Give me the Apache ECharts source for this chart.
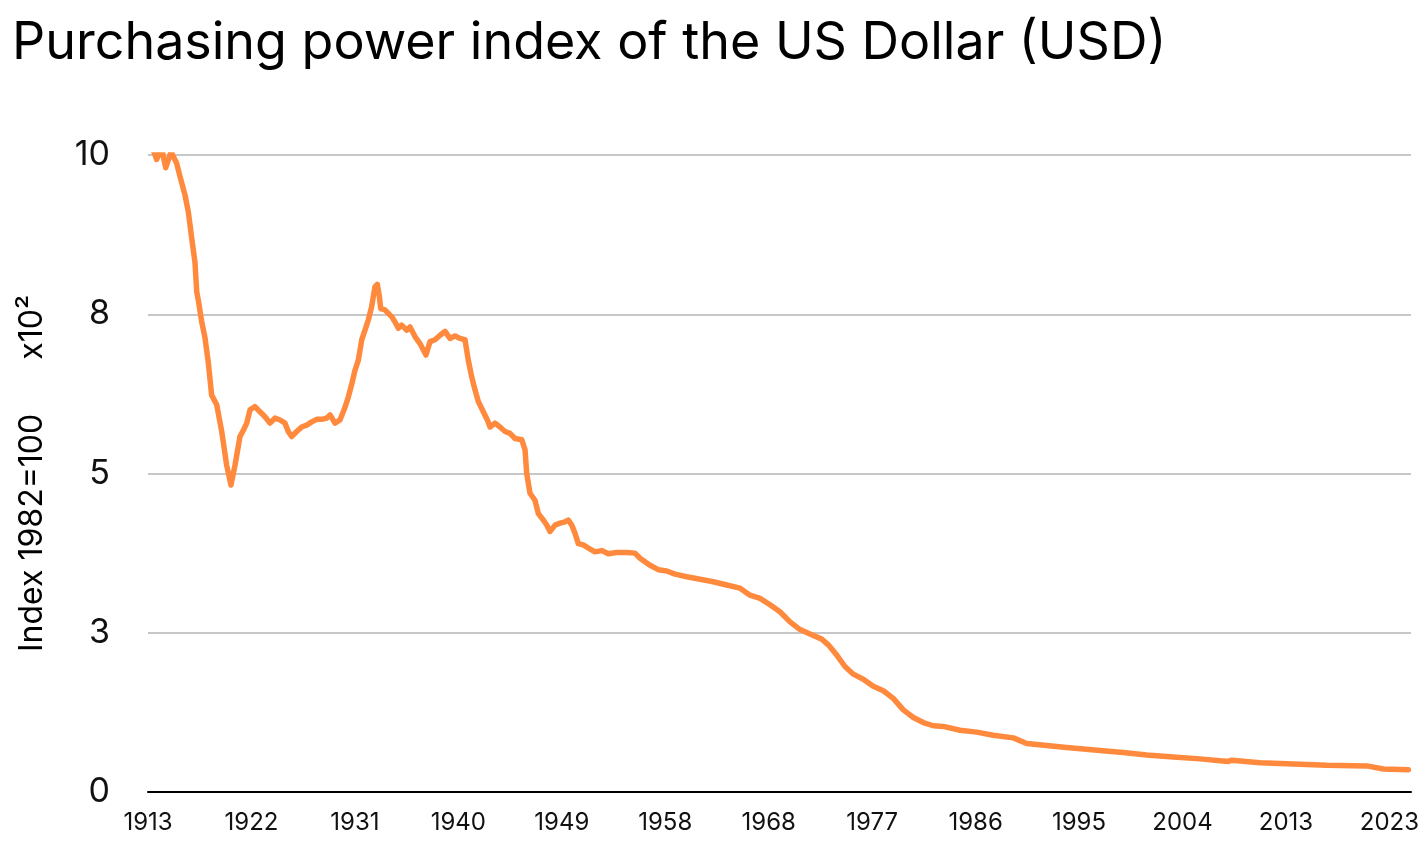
<!DOCTYPE html>
<html>
<head>
<meta charset="utf-8">
<script src="https://cdn.jsdelivr.net/npm/echarts@6/dist/echarts.min.js"></script>
<style>
html,body{margin:0;padding:0;background:#fff;}
#chart{width:1426px;height:842px;}
</style>
</head>
<body>
<div id="chart"></div>
<script>
// Purchasing power index (hundreds, 1982=100)
const years = [
  1913.00,1913.33,1913.77,1914.21,1914.57,1915.04,1915.54,1915.84,1916.28,1916.57,
  1916.87,1917.16,1917.32,1917.46,1917.76,1918.05,1918.34,1918.64,1919.09,1919.53,
  1919.97,1920.35,1920.71,1921.15,1921.45,1921.75,1922.04,1922.48,1922.92,1923.37,
  1923.81,1924.25,1924.70,1925.14,1925.43,1925.73,1926.18,1926.62,1927.06,1927.51,
  1927.95,1928.39,1928.84,1929.13,1929.57,1930.01,1930.46,1930.75,1931.05,1931.34,
  1931.64,1931.94,1932.23,1932.52,1932.82,1933.11,1933.32,1933.50,1933.62,1934.00,
  1934.60,1934.89,1935.18,1935.48,1935.92,1936.22,1936.66,1937.10,1937.63,1937.99,
  1938.43,1938.88,1939.32,1939.76,1940.20,1940.65,1941.09,1941.38,1941.68,1941.98,
  1942.27,1942.71,1943.07,1943.31,1943.75,1944.19,1944.64,1945.08,1945.52,1946.12,
  1946.41,1946.56,1946.85,1947.29,1947.59,1948.03,1948.33,1948.62,1949.07,1949.51,
  1949.95,1950.24,1950.55,1950.84,1951.13,1951.57,1952.02,1952.61,1953.20,1953.79,
  1954.53,1955.42,1956.15,1956.60,1957.48,1958.22,1958.96,1959.70,1960.74,1961.92,
  1963.09,1964.28,1965.46,1966.35,1967.23,1968.12,1969.00,1969.89,1970.78,1971.66,
  1972.70,1973.28,1974.03,1974.76,1975.50,1976.38,1977.27,1978.16,1979.04,1979.93,
  1980.82,1981.70,1982.59,1983.47,1984.95,1986.43,1987.90,1989.68,1990.86,1994.41,
  1997.36,1999.42,2001.50,2003.86,2006.22,2008.73,2009.03,2011.54,2014.49,2017.45,
  2021.00,2022.47,2024.68
];
const values = [
  10.20,10.15,9.93,10.10,9.80,10.05,9.87,9.66,9.37,9.11,
  8.70,8.32,7.85,7.72,7.38,7.13,6.75,6.23,6.08,5.66,
  5.13,4.82,5.13,5.58,5.68,5.79,6.00,6.05,5.97,5.89,
  5.79,5.87,5.84,5.79,5.66,5.58,5.66,5.73,5.76,5.81,
  5.85,5.85,5.87,5.92,5.79,5.84,6.04,6.20,6.40,6.62,
  6.78,7.10,7.25,7.41,7.62,7.93,7.97,7.78,7.59,7.57,
  7.46,7.38,7.28,7.33,7.25,7.30,7.15,7.04,6.86,7.07,
  7.10,7.17,7.23,7.12,7.16,7.12,7.10,6.78,6.52,6.31,
  6.13,5.97,5.84,5.73,5.79,5.73,5.66,5.63,5.55,5.53,
  5.37,5.00,4.69,4.58,4.37,4.27,4.19,4.09,4.19,4.22,
  4.24,4.27,4.19,4.06,3.90,3.88,3.83,3.77,3.79,3.74,
  3.76,3.76,3.75,3.67,3.56,3.49,3.47,3.42,3.38,3.34,
  3.30,3.25,3.20,3.09,3.04,2.94,2.83,2.67,2.55,2.48,
  2.40,2.31,2.15,1.97,1.85,1.77,1.66,1.59,1.47,1.29,
  1.17,1.09,1.04,1.03,0.97,0.94,0.89,0.85,0.76,0.70,
  0.65,0.62,0.58,0.55,0.52,0.48,0.50,0.46,0.44,0.42,
  0.41,0.36,0.35
];
const startYear = 1913;
const totalMonths = 1343;      // Jan 1913 .. Dec 2024
const labelStepMonths = 110;   // tick labels every 110 months
const yTicks = [0, 2.5, 5, 7.5, 10];

const titleText = 'Purchasing power index of the US Dollar (USD)';
const yName = 'Index 1982=100      x10\u00B2';

const seriesData = years.map((y, i) => [(y - startYear) * 12, values[i]]);

const chart = echarts.init(document.getElementById('chart'), null, {renderer: 'canvas'});
chart.setOption({
  animation: false,
  backgroundColor: '#ffffff',
  textStyle: {fontFamily: 'Inter'},
  title: {
    text: titleText,
    left: 7, top: 12,
    textStyle: {fontFamily: 'Inter', fontSize: 52, fontWeight: 'normal', color: '#000'}
  },
  grid: {left: 148, right: 15, top: 155, bottom: 50, containLabel: false},
  xAxis: {
    type: 'value',
    min: 0, max: totalMonths, interval: labelStepMonths,
    axisLine: {show: true, lineStyle: {color: '#000', width: 2}},
    axisTick: {show: false},
    splitLine: {show: false},
    axisLabel: {
      showMaxLabel: false,
      margin: 19,
      fontSize: 24, color: '#111', fontFamily: 'Inter',
      formatter: v => (Math.round(v) % labelStepMonths === 0) ? String(startYear + Math.floor(v / 12)) : ''
    }
  },
  yAxis: {
    type: 'value',
    min: yTicks[0], max: yTicks[yTicks.length - 1], interval: yTicks[1] - yTicks[0],
    name: yName,
    nameLocation: 'middle',
    nameGap: 100,
    nameTextStyle: {fontSize: 32, color: '#000', fontFamily: 'Inter'},
    axisLine: {show: false},
    axisTick: {show: false},
    splitLine: {show: true, lineStyle: {color: '#b4b4b4', width: 1.5}},
    axisLabel: {
      margin: 38, fontSize: 34, color: '#111', fontFamily: 'Inter',
      formatter: v => String(Math.round(v))
    }
  },
  series: [{
    type: 'line',
    data: seriesData,
    showSymbol: false,
    clip: true,
    lineStyle: {color: '#ff8a3d', width: 5.5, join: 'round', cap: 'round'},
    itemStyle: {color: '#ff8a3d'}
  }]
});
</script>
</body>
</html>
